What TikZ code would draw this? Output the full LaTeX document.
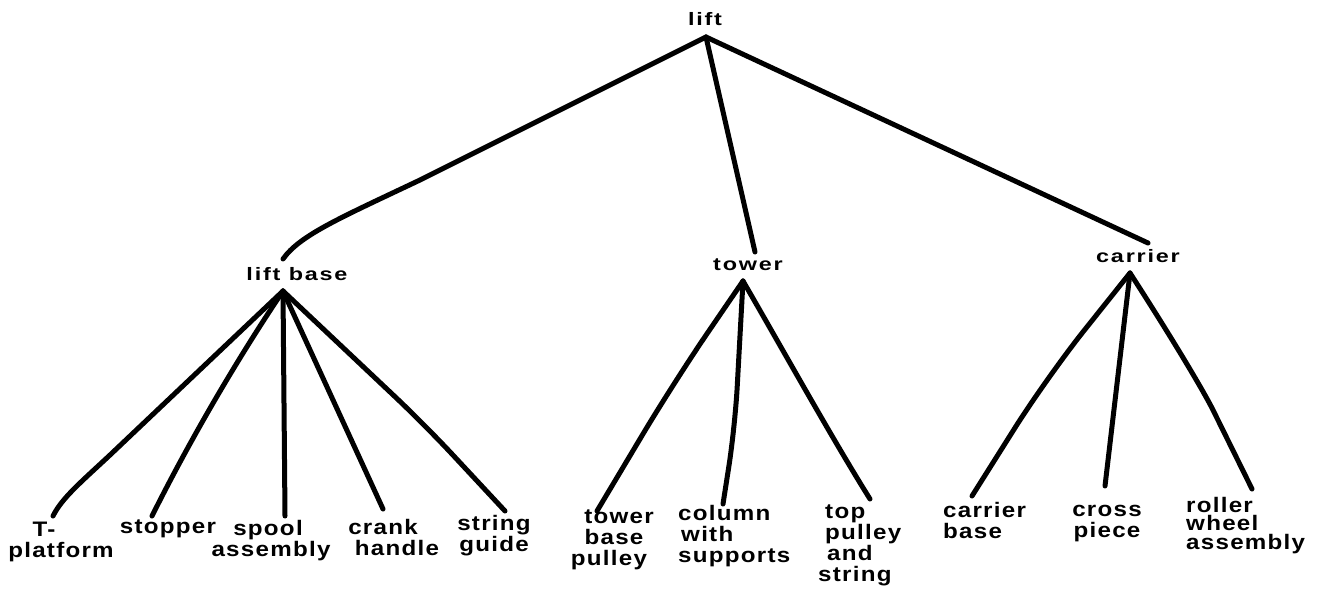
\documentclass[tikz,border=0pt]{standalone}
\usepackage{fontspec}
\setmainfont{Liberation Sans}
\newfontfamily\lblfont[FakeStretch=1.15,LetterSpace=6]{Liberation Sans}
\newfontfamily\topfont[FakeStretch=1.3,LetterSpace=10]{Liberation Sans}
\begin{document}
\begin{tikzpicture}[x=1pt,y=-1pt,
  lbl/.style={font=\lblfont\bfseries\fontsize{21}{21}\selectfont, inner sep=0pt, align=center, anchor=north},
  lbll/.style={lbl, align=left, anchor=north west},
  toplbl/.style={font=\topfont\bfseries\fontsize{18}{18}\selectfont, inner sep=0pt, anchor=north},
  edge/.style={line width=5pt, line cap=round, line join=round}]
\fill[white] (0,0) rectangle (1320,590);
\useasboundingbox (0,0) rectangle (1320,590);
% upper labels
\node[toplbl] (lift) at (705,12) {lift};
\node[toplbl] (liftbase) at (297,267) {lift base};
\node[toplbl] (tower) at (748,259) {tower};
\node[toplbl] (carrier) at (1138,249) {carrier};
% apex coordinates
\coordinate (a0) at (706,37);
\coordinate (aLB) at (283,291);
\coordinate (aT) at (743,281);
\coordinate (aC) at (1130,273);
\coordinate (eLB) at (283,259);
\coordinate (eT) at (755,252);
\coordinate (eC) at (1148,243);
% leaf labels
\node[lbl] (tplat) at (61,522) {\hspace*{-34pt}T-\\platform};
\node[lbl] (stopper) at (168,520) {stopper};
\node[lbl] (spool) at (271,520) {\hspace*{-6pt}spool\\assembly};
\node[lbl] (crank) at (397,519) {\hspace*{-28pt}crank\\handle};
\node[lbl] (sguide) at (494,515) {string\\guide};
\node[lbl] (tbp) at (614,510) {\hspace*{10pt}tower\\base\\\hspace*{-10pt}pulley};
\node[lbll] (col) at (678,505) {column\\\hspace*{3pt}with\\supports};
\node[lbll] (tpul) at (818,505) {\hspace*{7pt}top\\\hspace*{7pt}pulley\\\hspace*{9pt}and\\string};
\node[lbll] (cbase) at (943,502) {carrier\\base};
\node[lbl] (cross) at (1107,505) {cross\\piece};
\node[lbll, font=\lblfont\bfseries\fontsize{21}{18.5}\selectfont] (roller) at (1186,497) {roller\\wheel\\assembly};
% connector ends at the leaves
\coordinate (bT) at (53,516);
\coordinate (bS) at (152,516);
\coordinate (bSp) at (285,516);
\coordinate (bCr) at (383,509);
\coordinate (bSg) at (505,511);
\coordinate (bTb) at (597,511);
\coordinate (bCo) at (723,504);
\coordinate (bTp) at (870,499);
\coordinate (bCb) at (972,496);
\coordinate (bCp) at (1105,486);
\coordinate (bRw) at (1252,489);
% connectors
\draw[edge] (a0) -- (420,180) .. controls (340,218) and (300,235) .. (eLB);
\draw[edge] (a0) -- (eT);
\draw[edge] (a0) -- (eC);
\draw[edge] (aLB) -- (110,455) .. controls (80,483) and (62,498) .. (bT);
\draw[edge] (aLB) .. controls (230,370) and (185,450) .. (bS);
\draw[edge] (aLB) -- (bSp);
\draw[edge] (aLB) -- (bCr);
\draw[edge, rounded corners=40pt] (aLB) -- (425,425) -- (bSg);
\draw[edge, rounded corners=60pt] (aT) -- (674,382) -- (bTb);
\draw[edge, rounded corners=40pt] (aT) -- (735,427) -- (bCo);
\draw[edge] (aT) .. controls (783,350) and (833,440) .. (bTp);
\draw[edge, rounded corners=60pt] (aC) -- (1047,377) -- (bCb);
\draw[edge] (aC) -- (bCp);
\draw[edge] (aC) .. controls (1170,335) and (1200,385) .. (1212,408) -- (bRw);
\end{tikzpicture}
\end{document}
